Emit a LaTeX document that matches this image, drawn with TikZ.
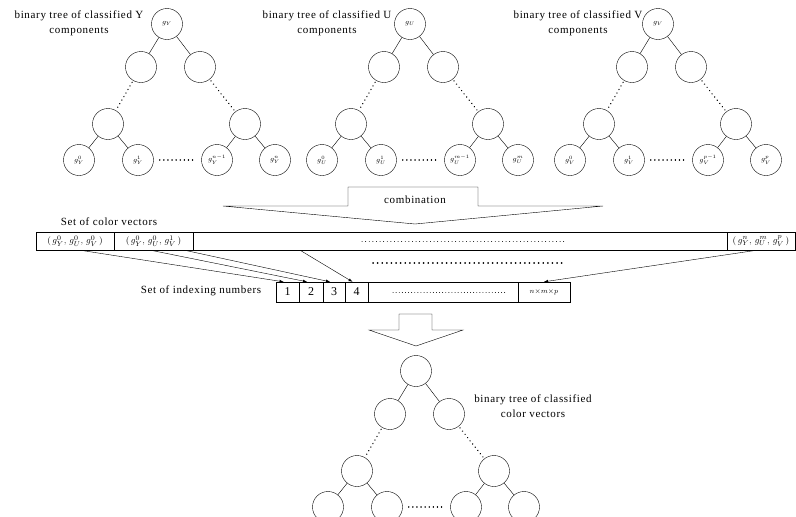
\documentclass[tikz,border=0pt]{standalone}
\usepackage{fontspec}
\setmainfont{Liberation Serif}[LetterSpace=6]
\usetikzlibrary{arrows}

\tikzset{
  tnode/.style={draw, circle, minimum size=31pt, inner sep=0pt, font=\scriptsize},
  dotline/.style={line width=1.4pt, dash pattern=on 0.1pt off 4pt, line cap=round},
  vcell/.style={draw, rectangle, minimum height=18pt, inner sep=0pt, font=\fontsize{9.5}{10}\selectfont},
  icell/.style={draw, rectangle, minimum height=20pt, inner sep=0pt, font=\fontsize{12}{13}\selectfont},
  ttl/.style={align=center, font=\fontsize{11}{15}\selectfont},
}

% one binary tree: prefix, x, y of the root, root label, four leaf labels
\newcommand{\bintree}[8]{%
  \begin{scope}[shift={(#2,#3)}]
    \node[tnode] (#1r) at (0,0) {#4};
    \node[tnode] (#1a) at (-26,43) {};
    \node[tnode] (#1b) at (33,43) {};
    \node[tnode] (#1c) at (-59,100) {};
    \node[tnode] (#1d) at (78,100) {};
    \node[tnode] (#1l0) at (-88,136) {#5};
    \node[tnode] (#1l1) at (-29,136) {#6};
    \node[tnode] (#1l2) at (50,136) {#7};
    \node[tnode] (#1l3) at (108,136) {#8};
  \end{scope}
  \draw (#1r) -- (#1a);
  \draw (#1r) -- (#1b);
  \draw[dotline, shorten <=2pt, shorten >=2pt] (#1a) -- (#1c);
  \draw[dotline, shorten <=2pt, shorten >=2pt] (#1b) -- (#1d);
  \draw (#1c) -- (#1l0);
  \draw (#1c) -- (#1l1);
  \draw (#1d) -- (#1l2);
  \draw (#1d) -- (#1l3);
  \draw[dotline, shorten <=6pt, shorten >=6pt] (#1l1) -- (#1l2);
}

\begin{document}
\begin{tikzpicture}[x=1pt, y=-1pt]
  \useasboundingbox (0,0) rectangle (796,517);

  % the three component trees
  \bintree{Y}{167}{24}{$g_Y$}{$g_Y^0$}{$g_Y^1$}{$g_Y^{n-1}$}{$g_Y^n$}
  \bintree{U}{410}{24}{$g_U$}{$g_U^0$}{$g_U^1$}{$g_U^{m-1}$}{$g_U^m$}
  \bintree{V}{658}{24}{$g_V$}{$g_V^0$}{$g_V^1$}{$g_V^{p-1}$}{$g_V^p$}

  \node[ttl] (ty) at (79,23) {binary tree of classified Y\\components};
  \node[ttl] (tu) at (327,23) {binary tree of classified U\\components};
  \node[ttl] (tv) at (578,23) {binary tree of classified V\\components};

  % combination arrow
  \draw (223,206) -- (348,206) -- (348,187) -- (478,187) -- (478,206)
    -- (603,206) -- (415,224) -- cycle;
  \node[font=\fontsize{11}{12}\selectfont] (comb) at (415,200) {combination};

  % set of color vectors
  \node[font=\fontsize{11}{12}\selectfont] (tvec) at (109,222) {Set of color vectors};
  \node[vcell, minimum width=78pt] (v1) at (75,241) {$(\,g_Y^0,\,g_U^0,\,g_V^0\,)$};
  \node[vcell, minimum width=79pt] (v2) at (153.5,241) {$(\,g_Y^0,\,g_U^0,\,g_V^1\,)$};
  \node[vcell, minimum width=534pt] (vd) at (460,241) {};
  \node[vcell, minimum width=68pt] (vn) at (761,241) {$(\,g_Y^n,\,g_U^m,\,g_V^p\,)$};
  \draw[dotline, line width=0.8pt, dash pattern=on 0.1pt off 3.5pt] (362,241) -- (565,241);
  \draw[dotline, line width=1.8pt, dash pattern=on 0.1pt off 4.5pt] (373,263) -- (563,263);

  % set of indexing numbers
  \node[font=\fontsize{11}{12}\selectfont] (tidx) at (201,291) {Set of indexing numbers};
  \node[icell, minimum width=23pt] (i1) at (287.5,292) {1};
  \node[icell, minimum width=24pt] (i2) at (311,292) {2};
  \node[icell, minimum width=22pt] (i3) at (334,292) {3};
  \node[icell, minimum width=23pt] (i4) at (356.5,292) {4};
  \node[icell, minimum width=150pt] (id) at (443,292) {};
  \node[icell, minimum width=52pt, font=\scriptsize] (ip) at (544,292) {$n{\times}m{\times}p$};
  \draw[dotline, line width=0.8pt, dash pattern=on 0.1pt off 3pt] (393,292) -- (505,292);

  \draw[-latex] ([xshift=5pt]v1.south) -- ([xshift=-4pt]i1.north);
  \draw[-latex] ([xshift=-3pt]v2.south) -- ([xshift=-4pt]i2.north);
  \draw[-latex] ([xshift=31pt]v2.south) -- ([xshift=-4pt]i3.north);
  \draw[-latex] ([xshift=-160pt]vd.south) -- ([xshift=-4pt]i4.north);
  \draw[-latex] ([xshift=-4pt]vn.south) -- (ip.north);

  % arrow down to the result tree
  \draw (369,330) -- (399,330) -- (399,314) -- (432,314) -- (432,330)
    -- (463,330) -- (416,346) -- cycle;

  % tree of color vectors
  \bintree{C}{416}{371}{}{}{}{}{}
  \node[ttl] (tc) at (533,406) {binary tree of classified\\color vectors};
\end{tikzpicture}
\end{document}
